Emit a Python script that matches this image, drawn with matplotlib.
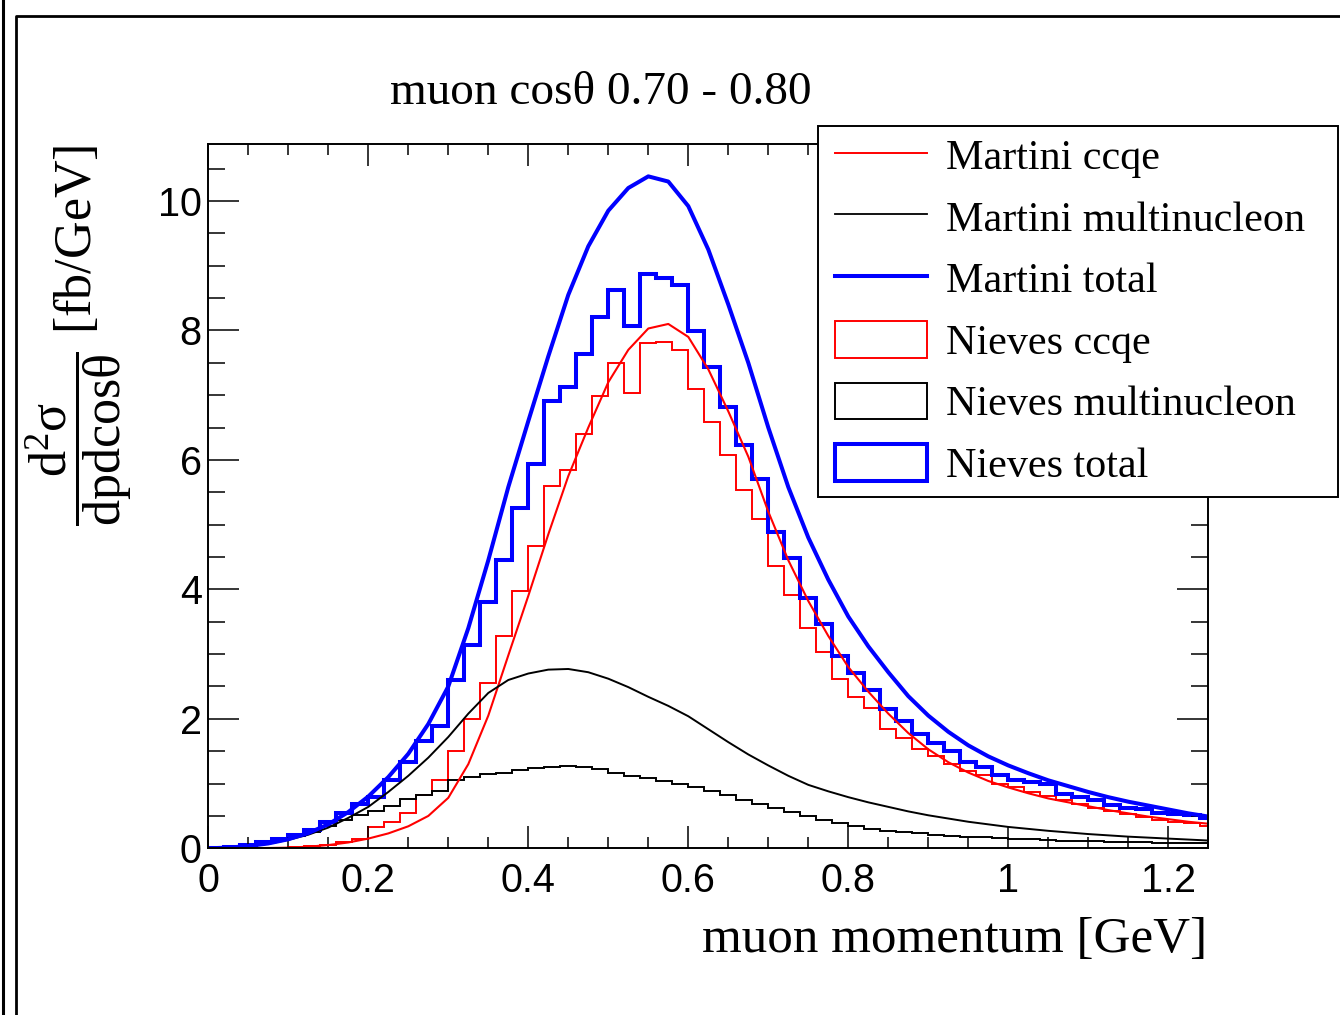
# -*- coding: utf-8 -*-

import numpy as np
import matplotlib
matplotlib.use('Agg')
import matplotlib.pyplot as plt
from matplotlib.lines import Line2D
from matplotlib.patches import Patch, Rectangle
from matplotlib.ticker import MultipleLocator, FuncFormatter


# ============================================================
# Data (muon cos theta 0.70 - 0.80)
# ============================================================

# Nieves histograms: 0.02 GeV bins starting at 0
BIN_WIDTH = 0.02
nieves_ccqe = [
    0.0, 0.0, 0.005, 0.01, 0.01, 0.02, 0.03, 0.05, 0.09, 0.15,
    0.33, 0.41, 0.54, 0.82, 1.06, 1.50, 2.00, 2.55, 3.28, 3.98,
    4.67, 5.60, 5.84, 6.40, 6.99, 7.49, 7.03, 7.80, 7.82, 7.69,
    7.10, 6.58, 6.08, 5.54, 5.08, 4.36, 3.92, 3.40, 3.04, 2.61,
    2.34, 2.16, 1.85, 1.70, 1.54, 1.43, 1.30, 1.20, 1.13, 1.00,
    0.94, 0.87, 0.81, 0.74, 0.68, 0.63, 0.57, 0.53, 0.49, 0.43,
    0.41, 0.39, 0.35,
]
nieves_multi = [
    0.005, 0.02, 0.045, 0.08, 0.13, 0.19, 0.25, 0.34, 0.44, 0.52,
    0.57, 0.65, 0.76, 0.82, 0.88, 1.05, 1.10, 1.15, 1.17, 1.21,
    1.24, 1.26, 1.27, 1.25, 1.22, 1.17, 1.12, 1.09, 1.04, 1.00,
    0.95, 0.88, 0.82, 0.75, 0.69, 0.62, 0.56, 0.50, 0.44, 0.39,
    0.34, 0.30, 0.27, 0.25, 0.23, 0.21, 0.19, 0.18, 0.17, 0.16,
    0.15, 0.14, 0.13, 0.12, 0.115, 0.11, 0.10, 0.095, 0.09, 0.085,
    0.08, 0.08, 0.075,
]
nieves_total = [
    0.005, 0.025, 0.05, 0.09, 0.14, 0.21, 0.28, 0.41, 0.54, 0.685,
    0.80, 1.06, 1.34, 1.65, 1.89, 2.60, 3.14, 3.81, 4.46, 5.25,
    5.94, 6.91, 7.12, 7.63, 8.21, 8.62, 8.07, 8.87, 8.81, 8.70,
    7.99, 7.44, 6.81, 6.23, 5.70, 4.89, 4.49, 3.87, 3.46, 2.97,
    2.71, 2.45, 2.15, 1.96, 1.77, 1.62, 1.50, 1.34, 1.25, 1.13,
    1.06, 1.02, 0.99, 0.84, 0.80, 0.74, 0.67, 0.63, 0.60, 0.55,
    0.53, 0.51, 0.47,
]

# Martini curves, sampled every 0.025 GeV from 0 to 1.25
CURVE_STEP = 0.025
martini_ccqe = [
    0.0, 0.0, 0.002, 0.005, 0.01, 0.025, 0.05, 0.09, 0.15, 0.23,
    0.34, 0.50, 0.78, 1.30, 2.05, 2.98, 3.90, 4.85, 5.75, 6.50,
    7.20, 7.70, 8.03, 8.10, 7.90, 7.40, 6.75, 6.05, 5.20, 4.45,
    3.82, 3.28, 2.80, 2.42, 2.08, 1.78, 1.53, 1.33, 1.17, 1.04,
    0.94, 0.85, 0.77, 0.71, 0.65, 0.59, 0.54, 0.49, 0.45, 0.41,
    0.38,
]
martini_multi = [
    0.0, 0.01, 0.03, 0.07, 0.13, 0.21, 0.32, 0.47, 0.64, 0.87,
    1.12, 1.40, 1.72, 2.08, 2.40, 2.60, 2.70, 2.76, 2.77, 2.72,
    2.62, 2.49, 2.34, 2.20, 2.04, 1.84, 1.64, 1.45, 1.28, 1.12,
    0.98, 0.88, 0.79, 0.71, 0.64, 0.57, 0.51, 0.46, 0.41, 0.37,
    0.33, 0.30, 0.27, 0.245, 0.22, 0.20, 0.18, 0.165, 0.15, 0.135,
    0.12,
]
martini_total = [
    0.0, 0.01, 0.035, 0.075, 0.14, 0.235, 0.37, 0.56, 0.80, 1.10,
    1.46, 1.92, 2.50, 3.40, 4.45, 5.58, 6.60, 7.60, 8.55, 9.30,
    9.85, 10.20, 10.38, 10.30, 9.92, 9.25, 8.40, 7.50, 6.50, 5.58,
    4.80, 4.15, 3.58, 3.12, 2.72, 2.35, 2.05, 1.80, 1.59, 1.42,
    1.28, 1.16, 1.05, 0.96, 0.87, 0.79, 0.72, 0.66, 0.60, 0.54,
    0.49,
]

TITLE = u'muon cos\u03b8 0.70 - 0.80'
X_LABEL = 'muon momentum [GeV]'
Y_LABEL = r'$\dfrac{\mathrm{d^{2}\sigma}}{\mathrm{dpdcos\theta}}$ [fb/GeV]'

X_MAX = 1.25
Y_MAX = 10.88

RED = '#ff0000'
BLUE = '#0000ff'
BLACK = '#000000'

SERIF = 'Liberation Serif'
SANS = 'Liberation Sans'

plt.rcParams['mathtext.fontset'] = 'custom'
plt.rcParams['mathtext.rm'] = SERIF
plt.rcParams['mathtext.it'] = SERIF + ':italic'
plt.rcParams['mathtext.bf'] = SERIF + ':bold'

W_PX, H_PX = 1340.0, 1015.0

bin_edges = np.arange(len(nieves_total) + 1) * BIN_WIDTH
curve_x = np.arange(len(martini_total)) * CURVE_STEP

fig = plt.figure(figsize=(W_PX / 100, H_PX / 100), dpi=100)
ax = fig.add_axes([208.3 / W_PX, 1 - 848.3 / H_PX,
                   1000.0 / W_PX, 704.3 / H_PX])

ax.plot(curve_x, martini_ccqe, color=RED, linewidth=1.5)
ax.plot(curve_x, martini_multi, color=BLACK, linewidth=1.4)
ax.stairs(nieves_ccqe, bin_edges, color=RED, linewidth=1.4, baseline=None)
ax.stairs(nieves_multi, bin_edges, color=BLACK, linewidth=1.4, baseline=None)
ax.stairs(nieves_total, bin_edges, color=BLUE, linewidth=2.9, baseline=None)
ax.plot(curve_x, martini_total, color=BLUE, linewidth=2.9)

ax.set_xlim(0, X_MAX)
ax.set_ylim(0, Y_MAX)

ax.xaxis.set_major_locator(MultipleLocator(0.2))
ax.xaxis.set_minor_locator(MultipleLocator(0.05))
ax.yaxis.set_major_locator(MultipleLocator(2))
ax.yaxis.set_minor_locator(MultipleLocator(0.5))
ax.xaxis.set_major_formatter(FuncFormatter(lambda v, p: '%g' % round(v, 2)))
ax.yaxis.set_major_formatter(FuncFormatter(lambda v, p: '%g' % v))

ax.tick_params(which='both', direction='in', top=True, right=True,
               width=1.1, labelsize=28.5, labelfontfamily=SANS)
ax.tick_params(axis='x', which='major', length=16, pad=10)
ax.tick_params(axis='x', which='minor', length=8)
ax.tick_params(axis='y', which='major', length=22, pad=4.7)
ax.tick_params(axis='y', which='minor', length=12)
for spine in ax.spines.values():
    spine.set_linewidth(1.4)

fig.text(601 / W_PX, 1 - 104 / H_PX, TITLE, ha='center', va='baseline',
         family=SERIF, fontsize=34)
fig.text(1207 / W_PX, 1 - 952 / H_PX, X_LABEL, ha='right', va='baseline',
         family=SERIF, fontsize=36.8)
fig.text(79 / W_PX, 1 - 145 / H_PX, Y_LABEL, ha='center', va='top',
         rotation=90, family=SERIF, fontsize=37.5)

# legend: opaque box drawn separately, entries placed inside it
fig.add_artist(Rectangle((818 / W_PX, 1 - 497 / H_PX), 520 / W_PX, 371 / H_PX,
                         facecolor='white', edgecolor='black', linewidth=1.4,
                         transform=fig.transFigure, zorder=4))
handles = [
    Line2D([], [], color=RED, linewidth=1.4),
    Line2D([], [], color=BLACK, linewidth=1.3),
    Line2D([], [], color=BLUE, linewidth=2.9),
    Patch(facecolor='none', edgecolor=RED, linewidth=1.4),
    Patch(facecolor='none', edgecolor=BLACK, linewidth=1.4),
    Patch(facecolor='none', edgecolor=BLUE, linewidth=2.9),
]
labels = ['Martini ccqe', 'Martini multinucleon', 'Martini total',
          'Nieves ccqe', 'Nieves multinucleon', 'Nieves total']
leg = fig.legend(
    handles, labels,
    loc='upper left',
    bbox_to_anchor=(824 / W_PX, 1 - 126 / H_PX),
    borderaxespad=0,
    prop={'family': SERIF, 'size': 30.3},
    handlelength=2.2,
    handleheight=0.96,
    handletextpad=0.46,
    labelspacing=0.47,
    borderpad=0.25,
    frameon=False,
)

# page frame around the canvas
fig.add_artist(Line2D([3 / W_PX, 3 / W_PX], [0, 1], color='black',
                      linewidth=2.2, transform=fig.transFigure))
fig.add_artist(Line2D([16 / W_PX, 16 / W_PX, 1], [0, 1 - 16 / H_PX, 1 - 16 / H_PX],
                      color='black', linewidth=2.0, transform=fig.transFigure))

fig.savefig('out.png', dpi=100)
